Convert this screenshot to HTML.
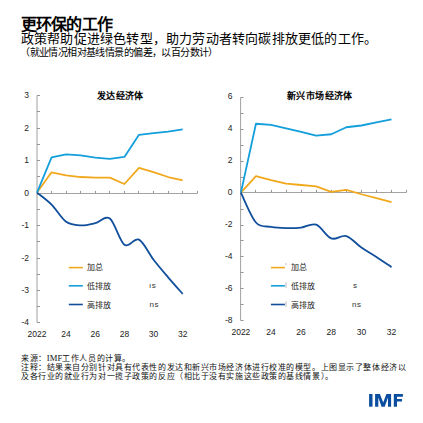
<!DOCTYPE html>
<html lang="zh-CN"><head><meta charset="utf-8"><style>
html,body{margin:0;padding:0;background:#fff;}
body{width:423px;height:423px;position:relative;overflow:hidden;font-family:"Liberation Sans",sans-serif;color:#000;}
.t{position:absolute;white-space:nowrap;}
.yl{position:absolute;font-size:8.5px;color:#222;line-height:11px;text-align:right;}
.xl{position:absolute;font-size:8.5px;color:#222;line-height:11px;width:40px;text-align:center;}
.lg{position:absolute;font-size:8px;color:#222;line-height:11px;white-space:nowrap;}
.gh{position:absolute;font-size:8px;color:#333;letter-spacing:0.6px;line-height:11px;white-space:nowrap;}
svg{position:absolute;left:0;top:0;}
</style></head><body>
<div class="t" style="left:21px;top:15.8px;font-size:16px;letter-spacing:-0.85px;font-weight:bold;line-height:18px">更环保的工作</div>
<div class="t" style="left:20.8px;top:30px;font-size:13px;letter-spacing:0.2px;line-height:18px">政策帮助促进绿色转型，助力劳动者转向碳排放更低的工作。</div>
<div class="t" style="left:20.2px;top:47.2px;font-size:10px;letter-spacing:-0.59px;line-height:11px">（就业情况相对基线情景的偏差，以百分数计）</div>
<svg width="423" height="423" viewBox="0 0 423 423">
<line x1="37.0" y1="95.50" x2="37.0" y2="322.50" stroke="#a0a0a0" stroke-width="1"/>
<line x1="37.0" y1="322.50" x2="40.0" y2="322.50" stroke="#969696" stroke-width="1"/>
<line x1="37.0" y1="306.50" x2="40.0" y2="306.50" stroke="#969696" stroke-width="1"/>
<line x1="37.0" y1="290.50" x2="40.0" y2="290.50" stroke="#969696" stroke-width="1"/>
<line x1="37.0" y1="274.50" x2="40.0" y2="274.50" stroke="#969696" stroke-width="1"/>
<line x1="37.0" y1="258.50" x2="40.0" y2="258.50" stroke="#969696" stroke-width="1"/>
<line x1="37.0" y1="241.50" x2="40.0" y2="241.50" stroke="#969696" stroke-width="1"/>
<line x1="37.0" y1="225.50" x2="40.0" y2="225.50" stroke="#969696" stroke-width="1"/>
<line x1="37.0" y1="209.50" x2="40.0" y2="209.50" stroke="#969696" stroke-width="1"/>
<line x1="37.0" y1="194.50" x2="40.0" y2="194.50" stroke="#969696" stroke-width="1"/>
<line x1="37.0" y1="176.50" x2="40.0" y2="176.50" stroke="#969696" stroke-width="1"/>
<line x1="37.0" y1="160.50" x2="40.0" y2="160.50" stroke="#969696" stroke-width="1"/>
<line x1="37.0" y1="144.50" x2="40.0" y2="144.50" stroke="#969696" stroke-width="1"/>
<line x1="37.0" y1="128.50" x2="40.0" y2="128.50" stroke="#969696" stroke-width="1"/>
<line x1="37.0" y1="111.50" x2="40.0" y2="111.50" stroke="#969696" stroke-width="1"/>
<line x1="37.0" y1="95.50" x2="40.0" y2="95.50" stroke="#969696" stroke-width="1"/>
<line x1="37.0" y1="193.5" x2="197.27" y2="193.5" stroke="#a3a3a3" stroke-width="1"/>
<line x1="51.50" y1="193.5" x2="51.50" y2="190.9" stroke="#969696" stroke-width="1"/>
<line x1="66.50" y1="193.5" x2="66.50" y2="190.9" stroke="#969696" stroke-width="1"/>
<line x1="80.50" y1="193.5" x2="80.50" y2="190.9" stroke="#969696" stroke-width="1"/>
<line x1="95.50" y1="193.5" x2="95.50" y2="190.9" stroke="#969696" stroke-width="1"/>
<line x1="109.50" y1="193.5" x2="109.50" y2="190.9" stroke="#969696" stroke-width="1"/>
<line x1="124.50" y1="193.5" x2="124.50" y2="190.9" stroke="#969696" stroke-width="1"/>
<line x1="138.50" y1="193.5" x2="138.50" y2="190.9" stroke="#969696" stroke-width="1"/>
<line x1="153.50" y1="193.5" x2="153.50" y2="190.9" stroke="#969696" stroke-width="1"/>
<line x1="168.50" y1="193.5" x2="168.50" y2="190.9" stroke="#969696" stroke-width="1"/>
<line x1="182.50" y1="193.5" x2="182.50" y2="190.9" stroke="#969696" stroke-width="1"/>
<line x1="197.50" y1="193.5" x2="197.50" y2="190.9" stroke="#969696" stroke-width="1"/>
<line x1="240.6" y1="97.50" x2="240.6" y2="320.50" stroke="#a0a0a0" stroke-width="1"/>
<line x1="240.6" y1="320.50" x2="243.6" y2="320.50" stroke="#969696" stroke-width="1"/>
<line x1="240.6" y1="304.50" x2="243.6" y2="304.50" stroke="#969696" stroke-width="1"/>
<line x1="240.6" y1="288.50" x2="243.6" y2="288.50" stroke="#969696" stroke-width="1"/>
<line x1="240.6" y1="272.50" x2="243.6" y2="272.50" stroke="#969696" stroke-width="1"/>
<line x1="240.6" y1="256.50" x2="243.6" y2="256.50" stroke="#969696" stroke-width="1"/>
<line x1="240.6" y1="240.50" x2="243.6" y2="240.50" stroke="#969696" stroke-width="1"/>
<line x1="240.6" y1="225.50" x2="243.6" y2="225.50" stroke="#969696" stroke-width="1"/>
<line x1="240.6" y1="209.50" x2="243.6" y2="209.50" stroke="#969696" stroke-width="1"/>
<line x1="240.6" y1="192.50" x2="243.6" y2="192.50" stroke="#969696" stroke-width="1"/>
<line x1="240.6" y1="177.50" x2="243.6" y2="177.50" stroke="#969696" stroke-width="1"/>
<line x1="240.6" y1="161.50" x2="243.6" y2="161.50" stroke="#969696" stroke-width="1"/>
<line x1="240.6" y1="145.50" x2="243.6" y2="145.50" stroke="#969696" stroke-width="1"/>
<line x1="240.6" y1="129.50" x2="243.6" y2="129.50" stroke="#969696" stroke-width="1"/>
<line x1="240.6" y1="113.50" x2="243.6" y2="113.50" stroke="#969696" stroke-width="1"/>
<line x1="240.6" y1="97.50" x2="243.6" y2="97.50" stroke="#969696" stroke-width="1"/>
<line x1="240.6" y1="192.5" x2="406.56" y2="192.5" stroke="#a3a3a3" stroke-width="1"/>
<line x1="255.50" y1="192.5" x2="255.50" y2="189.9" stroke="#969696" stroke-width="1"/>
<line x1="271.50" y1="192.5" x2="271.50" y2="189.9" stroke="#969696" stroke-width="1"/>
<line x1="286.50" y1="192.5" x2="286.50" y2="189.9" stroke="#969696" stroke-width="1"/>
<line x1="301.50" y1="192.5" x2="301.50" y2="189.9" stroke="#969696" stroke-width="1"/>
<line x1="316.50" y1="192.5" x2="316.50" y2="189.9" stroke="#969696" stroke-width="1"/>
<line x1="331.50" y1="192.5" x2="331.50" y2="189.9" stroke="#969696" stroke-width="1"/>
<line x1="346.50" y1="192.5" x2="346.50" y2="189.9" stroke="#969696" stroke-width="1"/>
<line x1="361.50" y1="192.5" x2="361.50" y2="189.9" stroke="#969696" stroke-width="1"/>
<line x1="376.50" y1="192.5" x2="376.50" y2="189.9" stroke="#969696" stroke-width="1"/>
<line x1="391.50" y1="192.5" x2="391.50" y2="189.9" stroke="#969696" stroke-width="1"/>
<line x1="406.50" y1="192.5" x2="406.50" y2="189.9" stroke="#969696" stroke-width="1"/>
<path d="M37.00,192.60 L51.57,172.29 L66.14,175.40 L80.71,177.02 L95.28,177.67 L109.85,177.67 L124.42,184.00 L138.99,167.94 L153.56,172.16 L168.13,177.02 L182.70,180.27" fill="none" stroke="#f2a81d" stroke-width="1.8" stroke-linejoin="round"/>
<path d="M37.00,192.60 L51.57,157.39 L66.14,154.31 L80.71,155.28 L95.28,157.55 L109.85,158.85 L124.42,156.90 L138.99,134.84 L153.56,133.22 L168.13,131.59 L182.70,129.32" fill="none" stroke="#139edc" stroke-width="1.8" stroke-linejoin="round"/>
<path d="M37.00,192.60 C39.43,194.60 46.71,199.74 51.57,204.61 C56.43,209.47 61.28,218.34 66.14,221.81 C71.00,225.27 75.85,225.16 80.71,225.37 C85.57,225.59 90.42,224.24 95.28,223.10 C100.14,221.97 104.99,214.94 109.85,218.56 C114.71,222.18 119.56,241.33 124.42,244.84 C129.28,248.36 134.13,237.16 138.99,239.65 C143.85,242.14 148.70,253.50 153.56,259.77 C158.42,266.05 163.27,271.62 168.13,277.29 C172.99,282.97 180.27,291.09 182.70,293.84" fill="none" stroke="#114f9d" stroke-width="1.8" stroke-linejoin="round"/>
<path d="M240.90,192.65 L255.96,176.22 L271.02,180.21 L286.08,183.72 L301.14,184.99 L316.20,186.43 L331.26,191.85 L346.32,189.78 L361.38,194.25 L376.44,198.07 L391.50,202.22" fill="none" stroke="#f2a81d" stroke-width="1.8" stroke-linejoin="round"/>
<path d="M240.90,192.65 L255.96,123.75 L271.02,124.86 L286.08,128.37 L301.14,131.88 L316.20,135.71 L331.26,134.27 L346.32,127.26 L361.38,125.50 L376.44,122.31 L391.50,119.28" fill="none" stroke="#139edc" stroke-width="1.8" stroke-linejoin="round"/>
<path d="M240.90,192.65 C243.41,197.62 250.94,216.79 255.96,222.48 C260.98,228.17 266.00,225.85 271.02,226.78 C276.04,227.71 281.06,227.93 286.08,228.06 C291.10,228.19 296.12,228.14 301.14,227.58 C306.16,227.02 311.18,222.90 316.20,224.71 C321.22,226.52 326.24,236.54 331.26,238.43 C336.28,240.31 341.30,234.52 346.32,236.03 C351.34,237.55 356.36,244.04 361.38,247.52 C366.40,251.00 371.42,253.66 376.44,256.93 C381.46,260.20 388.99,265.44 391.50,267.14" fill="none" stroke="#114f9d" stroke-width="1.8" stroke-linejoin="round"/>
<line x1="285.2" y1="264" x2="286.6" y2="264" stroke="#999" stroke-width="0.8"/>
<line x1="286" y1="282.3" x2="286" y2="288" stroke="#b0b0b0" stroke-width="0.9"/>
<line x1="286" y1="301.4" x2="286" y2="306.8" stroke="#b0b0b0" stroke-width="0.9"/>
<line x1="68.8" y1="267.6" x2="82.8" y2="267.6" stroke="#f2a81d" stroke-width="1.6"/>
<line x1="68.8" y1="285.8" x2="82.8" y2="285.8" stroke="#139edc" stroke-width="1.6"/>
<line x1="68.8" y1="304.5" x2="82.8" y2="304.5" stroke="#114f9d" stroke-width="1.6"/>
<line x1="270.9" y1="267.6" x2="284.9" y2="267.6" stroke="#f2a81d" stroke-width="1.6"/>
<line x1="270.9" y1="285.8" x2="284.9" y2="285.8" stroke="#139edc" stroke-width="1.6"/>
<line x1="270.9" y1="304.5" x2="284.9" y2="304.5" stroke="#114f9d" stroke-width="1.6"/>
</svg>
<div class="t" style="left:97px;top:89.8px;font-size:9px;font-weight:bold;line-height:12px;letter-spacing:0.35px">发达经济体</div>
<div class="t" style="left:287px;top:89.8px;font-size:9px;font-weight:bold;line-height:12px;letter-spacing:0.4px">新兴市场经济体</div>
<div class="yl" style="right:394px;top:90.2px">3</div>
<div class="yl" style="right:394px;top:122.7px">2</div>
<div class="yl" style="right:394px;top:155.1px">1</div>
<div class="yl" style="right:394px;top:187.6px">0</div>
<div class="yl" style="right:394px;top:220.1px">-1</div>
<div class="yl" style="right:394px;top:252.5px">-2</div>
<div class="yl" style="right:394px;top:284.9px">-3</div>
<div class="yl" style="right:394px;top:317.4px">-4</div>
<div class="yl" style="right:190.5px;top:91.4px">6</div>
<div class="yl" style="right:190.5px;top:123.3px">4</div>
<div class="yl" style="right:190.5px;top:155.2px">2</div>
<div class="yl" style="right:190.5px;top:187.1px">0</div>
<div class="yl" style="right:190.5px;top:219.0px">-2</div>
<div class="yl" style="right:190.5px;top:250.8px">-4</div>
<div class="yl" style="right:190.5px;top:282.8px">-6</div>
<div class="yl" style="right:190.5px;top:314.6px">-8</div>
<div class="xl" style="left:17.0px;top:328.5px">2022</div>
<div class="xl" style="left:46.1px;top:328.5px">24</div>
<div class="xl" style="left:75.3px;top:328.5px">26</div>
<div class="xl" style="left:104.4px;top:328.5px">28</div>
<div class="xl" style="left:133.6px;top:328.5px">30</div>
<div class="xl" style="left:162.7px;top:328.5px">32</div>
<div class="xl" style="left:220.9px;top:326.5px">2022</div>
<div class="xl" style="left:251.0px;top:326.5px">24</div>
<div class="xl" style="left:281.1px;top:326.5px">26</div>
<div class="xl" style="left:311.3px;top:326.5px">28</div>
<div class="xl" style="left:341.4px;top:326.5px">30</div>
<div class="xl" style="left:371.5px;top:326.5px">32</div>
<div class="lg" style="left:87px;top:261.5px">加总</div>
<div class="lg" style="left:87px;top:280.5px">低排放</div>
<div class="lg" style="left:87px;top:299.5px">高排放</div>
<div class="gh" style="left:149px;top:280px">ıs</div>
<div class="gh" style="left:149.5px;top:298.7px">ns</div>
<div class="lg" style="left:290.5px;top:262.3px">加总</div>
<div class="lg" style="left:290.5px;top:281.3px">低排放</div>
<div class="lg" style="left:290.5px;top:300.3px">高排放</div>
<div class="gh" style="left:353px;top:280px">s</div>
<div class="gh" style="left:352px;top:298.7px">ns</div>
<div class="t" style="left:21px;top:353px;font-size:8px;letter-spacing:0.56px;color:#111;line-height:10px">来源：<span style="font-family:'Liberation Serif',serif;font-size:8.6px;letter-spacing:0.1px">IMF</span>工作人员的计算。</div>
<div class="t" style="left:21px;top:363px;font-size:8px;letter-spacing:0.56px;color:#111;line-height:10px">注释：结果来自分别针对具有代表性的发达和新兴市场经济体进行校准的模型。上图显示了整体经济以</div>
<div class="t" style="left:21px;top:372px;font-size:8px;letter-spacing:0.56px;color:#111;line-height:10px">及各行业的就业行为对一揽子政策的反应（相比于没有实施这些政策的基线情景）。</div>
<svg width="423" height="423" viewBox="0 0 423 423" style="position:absolute;left:0;top:0"><g fill="#0b4ea0">
<rect x="369.1" y="394" width="3.4" height="12.7"/>
<path d="M375.1,406.7 L375.1,394 L379.9,394 L383.2,402.6 L386.4,394 L391.1,394 L391.1,406.7 L388,406.7 L388,397.4 L384.7,406.7 L381.6,406.7 L378.3,397.4 L378.3,406.7 Z"/>
<path d="M393.8,406.7 L393.8,394 L402.9,394 L402.9,396.7 L397,396.7 L397,398.9 L402,398.9 L402,401.6 L397,401.6 L397,406.7 Z"/>
</g></svg>
</body></html>
